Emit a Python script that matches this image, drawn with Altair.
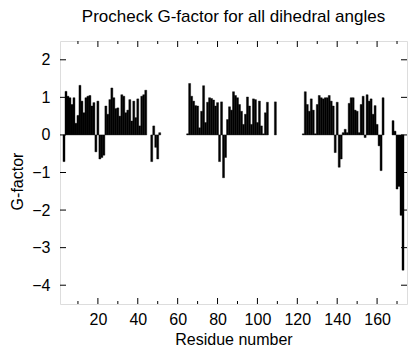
import altair as alt
import pandas as pd

# ---- data ----
residues = ([3] + list(range(4, 45)) + list(range(47, 52)) + list(range(65, 106))
            + [109] + list(range(123, 164)) + list(range(168, 174)))

gfactor = (
    [-0.71]
    + [1.16, 1.03, 0.99, 0.81, 0.99, 0.31, 0.52, 1.32, 0.90, 0.59,
       0.99, 1.03, 1.05, 0.77, 0.86, -0.45, 0.90, -0.64, -0.60, -0.54,
       0.77, 0.55, 0.94, 1.25, 0.99, 0.70, 0.72, 0.50, 1.07, 1.03,
       0.59, 0.66, 0.94, 0.37, 0.90, 0.46, 0.96, 0.24, 1.03, 1.07, 1.19]
    + [-0.71, 0.24, -0.33, -0.64, 0.06]
    + [0.03]
    + [1.37, 1.03, 0.90, 0.78, 0.77, 0.19, 0.63, 1.31, 0.33, 0.87,
       0.99, 0.97, 0.93, 0.77, 0.86, -0.71, 0.88, -1.14, -0.60, 0.41,
       0.75, 0.66, 1.15, 1.05, 0.99, 0.81, 0.63, 0.28, 0.55, 1.01,
       0.77, 0.28, 0.96, 0.94, 0.33, 0.90, 0.24]
    + [0.03, 0.59, 0.87]
    + [0.88]
    + [0.03]
    + [1.15, 0.81, 0.63, 0.96, 0.66, 0.03, 0.81, 1.05, 0.99, 0.96,
       0.99, 0.99, 1.05, 0.90, 0.77, -0.47, 0.87, -0.86, -0.64, 0.06,
       0.15, 0.06, 0.84, 0.99, 0.99, 0.66, 0.63, 0.06, 0.81, 1.03,
       -0.07, 1.07, 0.90, 0.96, 0.55, 0.78, 0.28, -0.29, -0.95, 0.99]
    + [0.38, 0.10, -1.44, -1.37, -2.14, -3.60]
)
assert len(residues) == len(gfactor)

x_major = [20, 40, 60, 80, 100, 120, 140, 160]
x_minor = [10, 30, 50, 70, 90, 110, 130, 150, 170]
y_ticks = [-4, -3, -2, -1, 0, 1, 2]

TITLE = "Procheck G-factor for all dihedral angles"
XTITLE = "Residue number"
YTITLE = "G-factor"

# ---- chart ----
W, H = 347, 263
FONT = "Liberation Sans"
FS = 16

df = pd.DataFrame({"res": residues, "g": gfactor})
df["lo"] = df["res"] - 0.5
df["hi"] = df["res"] + 0.5
df["base"] = 0.0

xs = alt.Scale(domain=[1, 175], nice=False, zero=False)
ys = alt.Scale(domain=[-4.5, 2.5], nice=False, zero=False)

x_axis = alt.Axis(
    values=x_major, title=XTITLE, ticks=False, tickSize=0, domain=False,
    grid=False, labelPadding=20, labelBaseline="alphabetic",
    labelFontSize=FS, titleFontSize=FS, titleY=40,
    titleBaseline="alphabetic", labelColor="black", titleColor="black",
    titleFontWeight="normal", labelFont=FONT, titleFont=FONT)
y_axis = alt.Axis(
    values=y_ticks, title=YTITLE, ticks=False, tickSize=0, domain=False,
    grid=False, labelPadding=10, labelFontSize=FS, titleFontSize=FS,
    titleAngle=270, titleAlign="center", titleBaseline="alphabetic",
    titleX=-38, titleY=140, labelColor="black", titleColor="black",
    titleFontWeight="normal", labelFont=FONT, titleFont=FONT)

bars = alt.Chart(df).mark_rect(color="black", stroke="black", strokeWidth=0.4).encode(
    x=alt.X("lo:Q", scale=xs, axis=x_axis),
    x2="hi:Q",
    y=alt.Y("g:Q", scale=ys, axis=y_axis),
    y2="base:Q",
)

maj = pd.DataFrame({"lo": x_major})
mnr = pd.DataFrame({"lo": x_minor})
yt = pd.DataFrame({"g": y_ticks})

def xtick(data, y0, y1):
    return alt.Chart(data).mark_rule(color="black", strokeWidth=1).encode(
        x=alt.X("lo:Q", scale=xs, axis=x_axis), y=alt.value(y0), y2=alt.value(y1))

def ytick(x0, x1):
    return alt.Chart(yt).mark_rule(color="black", strokeWidth=1).encode(
        y=alt.Y("g:Q", scale=ys, axis=y_axis), x=alt.value(x0), x2=alt.value(x1))

layers = [
    bars,
    xtick(maj, H, H - 6), xtick(maj, 0, 6),
    xtick(mnr, H, H - 3), xtick(mnr, 0, 3),
    ytick(0, 6), ytick(W, W - 6),
]

chart = alt.layer(*layers).properties(
    width=W, height=H,
    title=alt.TitleParams(TITLE, fontSize=17, fontWeight="normal", font=FONT,
                          color="black", anchor="middle", offset=2,
                          baseline="alphabetic"),
    autosize=alt.AutoSizeParams(type="none"),
    padding={"left": 52, "top": 33, "right": 1, "bottom": 44},
    background="white",
).configure_view(stroke="black", strokeWidth=1).configure(font=FONT)

chart.save("out.html", embed_options={"renderer": "svg", "actions": False})
